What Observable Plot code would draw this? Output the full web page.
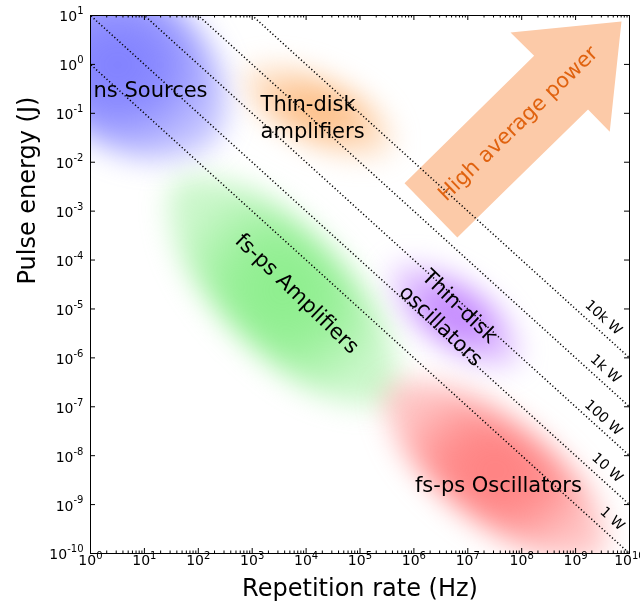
<!DOCTYPE html>
<html><head><meta charset="utf-8">
<script src="https://cdn.jsdelivr.net/npm/d3@7"></script>
<script src="https://cdn.jsdelivr.net/npm/@observablehq/plot@0.6"></script>
<style>body{margin:0;background:#fff;}</style>
</head><body><div id="chart"></div>
<script>
// ---- axis ticks ----
const xMajorTicks = [1e0,1e1,1e2,1e3,1e4,1e5,1e6,1e7,1e8,1e9,1e10];
const yMajorTicks = [1e-10,1e-9,1e-8,1e-7,1e-6,1e-5,1e-4,1e-3,1e-2,1e-1,1e0,1e1];
const xMinorTicks = d3.range(0, 10).flatMap(k => d3.range(2, 10).map(m => m * 10 ** k));

// ---- constant average power lines ----
const powerLevels = [1, 10, 100, 1000, 10000];
const powerLabels = ["1 W", "10 W", "100 W", "1k W", "10k W"];
const powerLabelFreq = [4.8e9, 3.9e9, 3.3e9, 3.6e9, 3.3e9];
const powerLabelEnergy = [5.2e-10, 5.7e-9, 6.0e-8, 6.0e-7, 6.7e-6];

// ---- regions (contour points: [repetition rate Hz, pulse energy J]) ----
const nsSources = [[2.1e2,2.8e-2],[13,1.1e-2],[0.43,5.6e-2],[0.037,2.9],[0.039,43],[0.41,87],[38,16],[3.2e2,0.37]];
const thinDiskAmps = [[3.9e5,2.0e-2],[1.0e5,1.3e-2],[9.8e3,3.0e-2],[1.2e3,0.15],[7.0e2,0.62],[2.8e3,0.95],[3.0e4,0.43],[2.4e5,8.6e-2]];
const fsAmps = [[3.6e5,1.5e-7],[2.5e4,1.54e-7],[5.6e2,3.0e-6],[38,2.0e-4],[37,3.8e-3],[5.3e2,3.7e-3],[2.4e4,1.9e-4],[3.5e5,2.9e-6]];
const thinDiskOsc = [[8.7e7,8.4e-7],[2.3e7,7.0e-7],[2.7e6,2.4e-6],[5.2e5,1.5e-5],[4.0e5,6.4e-5],[1.5e6,7.7e-5],[1.3e7,2.3e-5],[6.7e7,3.6e-6]];
const fsOsc = [[3.3e9,1.1e-10],[3.3e8,8.2e-11],[8.7e6,6.9e-10],[5.0e5,1.9e-8],[3.2e5,2.2e-7],[3.3e6,3.0e-7],[1.2e8,3.4e-8],[2.2e9,1.3e-9]];
const regionShapes = [nsSources, thinDiskAmps, fsAmps, thinDiskOsc, fsOsc];
const regionColors = ["#7f7fff", "#fdbf88", "#8cee8c", "#c488ff", "#ff7f7f"];

const regionLabels = ["ns Sources", "Thin-disk\namplifiers", "fs-ps Amplifiers", "Thin-disk\noscillators", "fs-ps Oscillators"];
const regionLabelFreq = [13, 1.43e3, 7.2e3, 5.0e6, 3.7e7];
const regionLabelEnergy = [0.33, 9.0e-2, 2.2e-5, 7.7e-6, 2.7e-9];
const regionLabelAngle = [0, 0, 44, 44, 0];
const regionLabelAlign = ["middle", "start", "middle", "middle", "middle"];

// ---- arrow ----
const arrowShape = [[6.7e5,3.7e-3],[1.7e8,1.5],[6.2e7,4.5],[7.1e9,7.5],[4.3e9,4.2e-2],[1.7e9,0.12],[6.4e6,2.9e-4]];
const arrowText = "High average power";
const arrowTextPos = [8.5e7, 6.2e-2];

// ---- helpers ----
const expOf = d => String(Math.round(Math.log10(d)));
const powerLineData = powerLevels.flatMap(P => [{P, f: 0.1, E: P / 0.1}, {P, f: 1e11, E: P / 1e11}]);
const labelData = regionLabels.map((t, i) => ({t, f: regionLabelFreq[i], E: regionLabelEnergy[i], a: regionLabelAngle[i], al: regionLabelAlign[i]}));
const pLabelData = powerLabels.map((t, i) => ({t, f: powerLabelFreq[i], E: powerLabelEnergy[i]}));

const marks = [];
regionShapes.forEach((pts, i) => {
  marks.push(Plot.line(pts, {x: d => d[0], y: d => d[1], curve: "catmull-rom-closed", fill: regionColors[i], stroke: "none", clip: true}));
});
marks.push(Plot.line(arrowShape, {x: d => d[0], y: d => d[1], curve: "linear-closed", fill: "#fccaa8", stroke: "none", clip: true}));
marks.push(Plot.line(powerLineData, {x: "f", y: "E", z: "P", stroke: "black", strokeWidth: 1.5, strokeDasharray: "1.2,2.3", strokeLinecap: "butt", clip: true}));
// ticks (inward)
marks.push(Plot.ruleX(xMajorTicks, {x: d => d, insetTop: 533, stroke: "black"}));
marks.push(Plot.ruleX(xMajorTicks, {x: d => d, insetBottom: 533, stroke: "black"}));
marks.push(Plot.ruleX(xMinorTicks, {x: d => d, insetTop: 535.5, stroke: "black"}));
marks.push(Plot.ruleX(xMinorTicks, {x: d => d, insetBottom: 535.5, stroke: "black"}));
marks.push(Plot.ruleY(yMajorTicks, {y: d => d, insetRight: 534, stroke: "black"}));
marks.push(Plot.ruleY(yMajorTicks, {y: d => d, insetLeft: 534, stroke: "black"}));
marks.push(Plot.frame({stroke: "black", strokeWidth: 1}));
// x tick labels: "10" + superscript exponent
const xSingle = xMajorTicks.filter(d => expOf(d).length === 1);
const xDouble = xMajorTicks.filter(d => expOf(d).length === 2);
[[xSingle, 5.7], [xDouble, 2.5]].forEach(([arr, off]) => {
  marks.push(Plot.text(arr, {x: d => d, y: () => 1e-10, text: () => "10", textAnchor: "end", dx: off, dy: 7.5, fontSize: 14, fill: "black"}));
  marks.push(Plot.text(arr, {x: d => d, y: () => 1e-10, text: expOf, textAnchor: "start", dx: off, dy: 2.6, fontSize: 10, fill: "black"}));
});
// y tick labels
[[1, 6.4], [2, 10], [3, 16.3]].forEach(([len, w]) => {
  const arr = yMajorTicks.filter(d => expOf(d).length === len);
  marks.push(Plot.text(arr, {x: () => 1, y: d => d, text: () => "10", textAnchor: "end", dx: -7 - w, dy: 1.5, fontSize: 14, fill: "black"}));
  marks.push(Plot.text(arr, {x: () => 1, y: d => d, text: expOf, textAnchor: "end", dx: -7, dy: -4.3, fontSize: 10, fill: "black"}));
});
// axis labels
marks.push(Plot.text(["Repetition rate (Hz)"], {frameAnchor: "bottom", dy: 42, fontSize: 24, fill: "black"}));
marks.push(Plot.text(["Pulse energy (J)"], {frameAnchor: "left", rotate: -90, dx: -63, fontSize: 24, fill: "black"}));
// power labels
marks.push(Plot.text(pLabelData, {x: "f", y: "E", text: "t", rotate: 42.2, fontSize: 14, fill: "black"}));
// region labels
marks.push(Plot.text(labelData.filter(d => d.al === "middle"), {x: "f", y: "E", text: "t", rotate: "a", fontSize: 21, lineHeight: 1.28, fill: "black"}));
marks.push(Plot.text(labelData.filter(d => d.al === "start"), {x: "f", y: "E", text: "t", textAnchor: "start", fontSize: 21, lineHeight: 1.28, fill: "black"}));
// arrow text
marks.push(Plot.text([arrowText], {x: () => arrowTextPos[0], y: () => arrowTextPos[1], text: d => d, rotate: -44, fontSize: 21, fill: "#e0620f"}));

const chart = Plot.plot({
  width: 640, height: 611,
  marginLeft: 90, marginRight: 11, marginTop: 15, marginBottom: 58,
  x: {type: "log", domain: [1, 1e10], axis: null},
  y: {type: "log", domain: [1e-10, 10], axis: null},
  style: {fontFamily: "'DejaVu Sans', sans-serif", background: "white", color: "black"},
  marks
});

// soft, glowing regions: radial fade + blur
const ns = "http://www.w3.org/2000/svg";
const defs = document.createElementNS(ns, "defs");
regionColors.forEach((c, i) => {
  const rg = document.createElementNS(ns, "radialGradient");
  rg.setAttribute("id", "rg" + i);
  [[0, 1], [0.45, 0.9], [0.8, 0.62], [1, 0.45]].forEach(([o, a]) => {
    const s = document.createElementNS(ns, "stop");
    s.setAttribute("offset", o);
    s.setAttribute("stop-color", c);
    s.setAttribute("stop-opacity", a);
    rg.appendChild(s);
  });
  defs.appendChild(rg);
});
chart.insertBefore(defs, chart.firstChild);
chart.querySelectorAll("g").forEach(g => {
  const i = regionColors.indexOf(g.getAttribute("fill"));
  if (i >= 0) {
    g.setAttribute("fill", `url(#rg${i})`);
    g.querySelectorAll("path").forEach(p => p.removeAttribute("fill"));
    g.style.filter = "blur(14px)";
    g.style.mixBlendMode = "multiply";
  }
});
document.getElementById("chart").appendChild(chart);
</script></body></html>
